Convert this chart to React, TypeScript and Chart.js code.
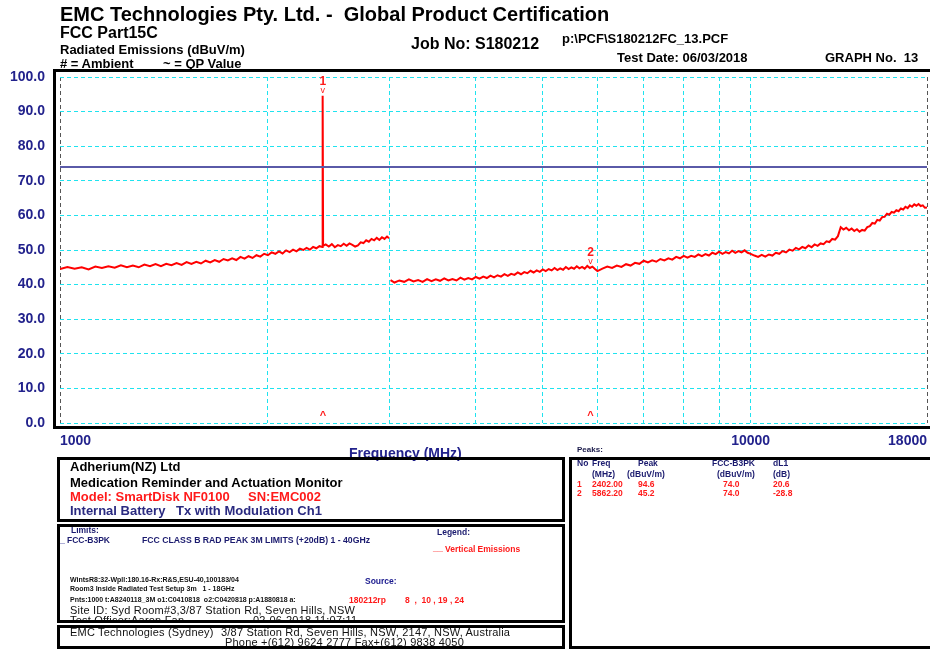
import React, { useEffect, useRef } from 'react';
import { Chart, registerables } from 'chart.js';
Chart.register(...registerables);

// ---- data (MHz, dBuV/m) ----
const seg1Freq = [1000, 1025, 1050, 1075, 1100, 1125, 1150, 1175, 1200, 1225, 1250, 1275, 1300, 1325, 1350, 1375, 1400, 1425, 1450, 1475, 1500, 1525, 1550, 1575, 1600, 1625, 1650, 1675, 1700, 1725, 1750, 1775, 1800, 1825, 1850, 1875, 1900, 1925, 1950, 1975, 2000, 2025, 2050, 2075, 2100, 2125, 2150, 2175, 2200, 2225, 2250, 2275, 2300, 2325, 2350, 2375, 2425, 2450, 2475, 2500, 2525, 2550, 2575, 2600, 2625, 2650, 2675, 2700, 2725, 2750, 2775, 2800, 2825, 2850, 2875, 2900, 2925, 2950, 2975, 2995];
const seg1Level = [44.5, 45.1, 44.6, 45.0, 44.4, 45.2, 44.8, 45.3, 44.9, 45.6, 45.0, 45.5, 45.0, 45.8, 45.3, 45.9, 45.3, 46.0, 45.6, 46.2, 45.7, 46.5, 46.0, 46.6, 46.1, 46.9, 46.4, 47.1, 46.6, 47.4, 47.0, 47.6, 47.1, 48.0, 47.5, 48.2, 47.7, 48.5, 48.1, 48.9, 48.5, 49.3, 48.9, 49.6, 49.0, 49.9, 49.4, 50.1, 49.6, 50.4, 50.0, 50.6, 50.1, 50.9, 50.5, 51.1, 51.6, 51.0, 51.7, 50.8, 51.4, 51.1, 51.8, 51.2, 51.9, 51.5, 51.0, 51.3, 52.2, 52.0, 52.8, 52.4, 53.2, 52.8, 53.5, 52.9, 53.7, 53.2, 53.9, 53.4];
const spikeFreq = [2398, 2399, 2400, 2402, 2404];
const spikeLevel = [50.9, 77.4, 51.0, 94.6, 51.2];
const seg2Freq = [
  3010, 3050, 3100, 3150, 3200, 3250, 3300, 3350, 3400, 3450, 3500, 3550, 3600, 3650, 3700, 3750, 3800, 3850, 3900, 3950,
  4000, 4050, 4100, 4150, 4200, 4250, 4300, 4350, 4400, 4450, 4500, 4550, 4600, 4650, 4700, 4750, 4800, 4850, 4900, 4950,
  5000, 5050, 5100, 5150, 5200, 5250, 5300, 5350, 5400, 5450, 5500, 5550, 5600, 5650, 5700, 5750, 5800, 5850, 5900, 5950,
  6000, 6100, 6200, 6300, 6400, 6500, 6600, 6700, 6800, 6900, 7000, 7100, 7200, 7300, 7400, 7500, 7600, 7700, 7800, 7900,
  8000, 8100, 8200, 8300, 8400, 8500, 8600, 8700, 8800, 8900, 9000, 9100, 9200, 9300, 9400, 9500, 9600, 9700, 9800, 9900,
  10000, 10125, 10250, 10375, 10500, 10625, 10750, 10875, 11000, 11125, 11250, 11375, 11500, 11625, 11750, 11875,
  12000, 12125, 12250, 12375, 12500, 12625, 12750, 12875, 13000, 13125, 13250, 13375, 13500, 13625, 13750, 13875,
  14000, 14125, 14250, 14375, 14500, 14625, 14750, 14875, 15000, 15125, 15250, 15375, 15500, 15625, 15750, 15875,
  16000, 16125, 16250, 16375, 16500, 16625, 16750, 16875, 17000, 17125, 17250, 17375, 17500, 17625, 17750, 17875, 18000,
];
const seg2Level = [
  41.3, 40.6, 41.2, 40.8, 41.5, 40.9, 41.3, 40.8, 41.6, 41.0, 41.5, 41.1, 41.8, 41.2, 41.6, 41.2, 42.0, 41.4, 41.9, 41.5,
  42.2, 41.7, 42.3, 41.9, 42.6, 42.1, 42.7, 42.3, 43.0, 42.5, 43.1, 42.8, 43.5, 43.0, 43.6, 43.3, 44.0, 43.5, 44.1, 43.7,
  44.4, 43.9, 44.5, 44.1, 44.8, 44.2, 44.7, 44.3, 45.1, 44.5, 45.0, 44.6, 45.3, 44.7, 45.1, 44.6, 45.4, 44.8, 45.2, 44.5,
  43.9, 44.6, 45.2, 44.8, 45.5, 45.1, 45.9, 45.5, 46.3, 46.0, 46.9, 46.4, 47.0, 46.6, 47.4, 47.0, 47.6, 47.2, 48.0, 47.6,
  48.3, 47.8, 48.3, 48.0, 48.7, 48.2, 48.8, 48.4, 49.2, 48.8, 49.5, 48.9, 49.4, 49.0, 49.8, 49.2, 49.7, 49.3, 49.9, 49.2,
  48.9, 48.4, 48.0, 48.6, 48.1, 48.7, 48.4, 49.2, 48.9, 49.7, 49.3, 50.1, 49.8, 50.6, 50.2, 50.9,
  50.5, 51.3, 50.8, 51.6, 51.2, 51.9, 51.7, 52.5, 52.3, 53.2, 53.0, 54.0, 56.6, 55.9, 56.4, 55.7,
  56.2, 55.5, 56.0, 55.3, 55.8, 55.6, 56.6, 56.9, 57.8, 57.6, 58.7, 58.5, 59.5, 59.6, 60.5, 60.2,
  61.0, 60.8, 61.5, 61.2, 62.0, 61.7, 62.5, 62.1, 62.9, 62.5, 63.2, 62.8, 63.3, 62.7, 62.9, 62.2, 62.3,
];
const limitFreq = [1000, 18000];
const limitLevel = [74, 74];
const gridFreqs = [1000, 2000, 3000, 4000, 5000, 6000, 7000, 8000, 9000, 10000, 18000];
const labelledFreqs = [1000, 10000, 18000];
const peakNo = [1, 2];
const peakFreq = [2402.0, 5862.2];
const peakLevel = [94.6, 45.2];
const peakLimit = [74.0, 74.0];
const peakDelta = [20.6, -28.8];

const FF = '"Liberation Sans", Arial, Helvetica, sans-serif';
const NAVY = '#22228c';
const CYAN = '#1fe3ef';
const RED = '#ff1a1a';

function T({ x, b, s, w = 700, c = '#000', ls, children }: any) {
  return (
    <div style={{ position: 'absolute', left: x, top: b - 0.846 * s, fontSize: s, lineHeight: `${s}px`, fontWeight: w, color: c, whiteSpace: 'pre', fontFamily: FF, letterSpacing: ls }}>{children}</div>
  );
}
function Box({ l, t, w, h, bw = 3 }: any) {
  return <div style={{ position: 'absolute', left: l, top: t, width: w, height: h, border: `${bw}px solid #000`, boxSizing: 'border-box', pointerEvents: 'none' }} />;
}

const markerPlugin = {
  id: 'peakMarkers',
  afterDatasetsDraw(chart: any) {
    const { ctx, scales } = chart;
    const x = scales.x, y = scales.y;
    ctx.save();
    ctx.fillStyle = RED;
    ctx.textAlign = 'center';
    ctx.textBaseline = 'alphabetic';
    peakFreq.forEach((f, i) => {
      const px = x.getPixelForValue(f);
      const py = y.getPixelForValue(peakLevel[i]);
      ctx.font = `bold 12px ${FF}`;
      ctx.fillText(String(peakNo[i]), px, py - 11);
      ctx.font = `9px ${FF}`;
      ctx.fillText('v', px, py - 3);
      const by = y.getPixelForValue(0);
      ctx.font = `bold 11px ${FF}`;
      ctx.fillText('^', px, by - 4);
    });
    ctx.restore();
  },
};

export default function App() {
  const ref = useRef<HTMLCanvasElement>(null);
  useEffect(() => {
    const canvas = ref.current!;
    const pts1 = seg1Freq.map((f, i) => ({ x: f, y: seg1Level[i] }))
      .concat(spikeFreq.map((f, i) => ({ x: f, y: spikeLevel[i] })))
      .sort((a, b) => a.x - b.x);
    const pts2 = seg2Freq.map((f, i) => ({ x: f, y: seg2Level[i] }));
    const lim = limitFreq.map((f, i) => ({ x: f, y: limitLevel[i] }));
    const chart = new Chart(canvas, {
      type: 'line',
      data: {
        datasets: [
          { data: lim, borderColor: '#5a5aa8', borderWidth: 2, pointRadius: 0 },
          { data: pts1, borderColor: '#ff0000', borderWidth: 2, pointRadius: 0, tension: 0 },
          { data: pts2, borderColor: '#ff0000', borderWidth: 2, pointRadius: 0, tension: 0 },
        ],
      },
      options: {
        animation: false,
        responsive: false,
        devicePixelRatio: 1,
        layout: { padding: { left: 0, right: 0, top: 77, bottom: 196 } },
        plugins: { legend: { display: false }, tooltip: { enabled: false } },
        scales: {
          x: {
            type: 'logarithmic', min: 1000, max: 18000,
            afterBuildTicks: (s: any) => { s.ticks = gridFreqs.map((v) => ({ value: v })); },
            afterFit: (s: any) => { s.height = 30; },
            ticks: {
              autoSkip: false, maxRotation: 0, minRotation: 0, align: 'inner', padding: 10, color: NAVY,
              font: { family: FF, size: 14, weight: 'bold' },
              callback: (v: any) => (labelledFreqs.includes(Number(v)) ? String(v) : ''),
            },
            grid: {
              color: (c: any) => (c.tick && (c.tick.value === 1000 || c.tick.value === 18000) ? '#555555' : CYAN),
              lineWidth: 1, drawTicks: false, borderDash: [4, 3],
            } as any,
            border: { display: false, dash: [4, 3] },
          },
          y: {
            min: 0, max: 100,
            afterFit: (s: any) => { s.width = 60; },
            ticks: {
              stepSize: 10, padding: 15, color: NAVY,
              font: { family: FF, size: 14, weight: 'bold' },
              callback: (v: any) => Number(v).toFixed(1),
            },
            grid: { color: CYAN, lineWidth: 1, drawTicks: false, borderDash: [4, 3] } as any,
            border: { display: false, dash: [4, 3] },
          },
        },
      } as any,
      plugins: [markerPlugin],
    });
    return () => chart.destroy();
  }, []);

  return (
    <div style={{ position: 'absolute', left: 0, top: 0, width: 930, height: 649, overflow: 'hidden', background: '#fff', fontFamily: FF }}>
      <canvas ref={ref} width={937} height={649} style={{ position: 'absolute', left: 0, top: 0, width: 937, height: 649 }} />
      {/* plot frame */}
      <Box l={53} t={69} w={885} h={360} />

      {/* header */}
      <T x={60} b={21} s={20}>EMC Technologies Pty. Ltd. -  Global Product Certification</T>
      <T x={60} b={39} s={16}>FCC Part15C</T>
      <T x={60} b={54} s={13}>Radiated Emissions (dBuV/m)</T>
      <T x={60} b={68} s={13}># = Ambient</T>
      <T x={163} b={68} s={13}>~ = QP Value</T>
      <T x={411} b={50} s={16}>Job No: S180212</T>
      <T x={562} b={43} s={13}>p:\PCF\S180212FC_13.PCF</T>
      <T x={617} b={62} s={13}>Test Date: 06/03/2018</T>
      <T x={825} b={62} s={13}>GRAPH No.  13</T>

      <T x={349} b={458} s={14} c={NAVY}>Frequency (MHz)</T>
      <T x={577} b={453} s={8} c="#1a1a4a">Peaks:</T>

      {/* box 1 text */}
      <T x={70} b={471} s={13}>Adherium(NZ) Ltd</T>
      <T x={70} b={487} s={13}>Medication Reminder and Actuation Monitor</T>
      <T x={70} b={501} s={13} c={RED}>Model: SmartDisk NF0100</T>
      <T x={248} b={501} s={13} c={RED}>SN:EMC002</T>
      <T x={70} b={515} s={13} c="#2a2a80">Internal Battery</T>
      <T x={176} b={515} s={13} c="#2a2a80">Tx with Modulation Ch1</T>

      {/* box 2 text */}
      <T x={71} b={533} s={8.5} c="#1a1a6e">Limits:</T>
      <T x={60} b={544} s={9} c="#1a1a8e">_</T>
      <T x={67} b={543} s={8.5} c="#1a1a6e">FCC-B3PK</T>
      <T x={142} b={543} s={8.7} c="#1a1a6e">FCC CLASS B RAD PEAK 3M LIMITS (+20dB) 1 - 40GHz</T>
      <T x={437} b={535} s={8.5} c="#1a1a6e">Legend:</T>
      <T x={433} b={552} s={9} c={RED}>__</T>
      <T x={445} b={552} s={8.5} c={RED}>Vertical Emissions</T>
      <T x={70} b={582} s={7} c="#111">WintsR8:32-Wpll:180.16-Rx:R&amp;S,ESU-40,100183/04</T>
      <T x={70} b={591} s={7} c="#111">Room3 Inside Radiated Test Setup 3m   1 - 18GHz</T>
      <T x={70} b={602} s={7} c="#111">Pnts:1000 t:A8240118_3M o1:C0410818  o2:C0420818 p:A1880818 a:</T>
      <T x={365} b={584} s={8.5} c="#1a1a8e">Source:</T>
      <T x={349} b={603} s={8.5} c={RED}>180212rp</T>
      <T x={405} b={603} s={8.5} c={RED}>8  ,  10 , 19 , 24</T>
      <T x={70} b={614} s={11} w={400} c="#111" ls={0.2}>Site ID: Syd Room#3,3/87 Station Rd, Seven Hills, NSW</T>
      <T x={70} b={624} s={11} w={400} c="#111" ls={0.2}>Test Officer:Aaron Fan</T>
      <T x={253} b={624} s={11} w={400} c="#111" ls={0.2}>02-06-2018 11:07:11</T>
      <div style={{ position: 'absolute', left: 57, top: 622, width: 510, height: 4, background: '#fff' }} />

      {/* box 3 text */}
      <T x={70} b={636} s={11} w={400} c="#111" ls={0.2}>EMC Technologies (Sydney)</T>
      <T x={221} b={636} s={11} w={400} c="#111" ls={0.2}>3/87 Station Rd, Seven Hills, NSW, 2147, NSW, Australia</T>
      <T x={225} b={646} s={11} w={400} c="#111" ls={0.2}>Phone +(612) 9624 2777 Fax+(612) 9838 4050</T>

      {/* peaks table */}
      <T x={577} b={466} s={8.5} c="#1a1a6e">No</T>
      <T x={592} b={466} s={8.5} c="#1a1a6e">Freq</T>
      <T x={638} b={466} s={8.5} c="#1a1a6e">Peak</T>
      <T x={712} b={466} s={8.5} c="#1a1a6e">FCC-B3PK</T>
      <T x={773} b={466} s={8.5} c="#1a1a6e">dL1</T>
      <T x={592} b={477} s={8.5} c="#1a1a6e">(MHz)</T>
      <T x={627} b={477} s={8.5} c="#1a1a6e">(dBuV/m)</T>
      <T x={717} b={477} s={8.5} c="#1a1a6e">(dBuV/m)</T>
      <T x={773} b={477} s={8.5} c="#1a1a6e">(dB)</T>
      {peakNo.map((n, i) => (
        <React.Fragment key={n}>
          <T x={577} b={487 + i * 9.5} s={8.5} c={RED}>{String(n)}</T>
          <T x={592} b={487 + i * 9.5} s={8.5} c={RED}>{peakFreq[i].toFixed(2)}</T>
          <T x={638} b={487 + i * 9.5} s={8.5} c={RED}>{peakLevel[i].toFixed(1)}</T>
          <T x={723} b={487 + i * 9.5} s={8.5} c={RED}>{peakLimit[i].toFixed(1)}</T>
          <T x={773} b={487 + i * 9.5} s={8.5} c={RED}>{peakDelta[i].toFixed(1)}</T>
        </React.Fragment>
      ))}

      {/* boxes */}
      <Box l={57} t={457} w={508} h={65} />
      <Box l={57} t={524} w={508} h={99} />
      <Box l={57} t={625} w={508} h={24} />
      <Box l={569} t={457} w={370} h={192} />
    </div>
  );
}
